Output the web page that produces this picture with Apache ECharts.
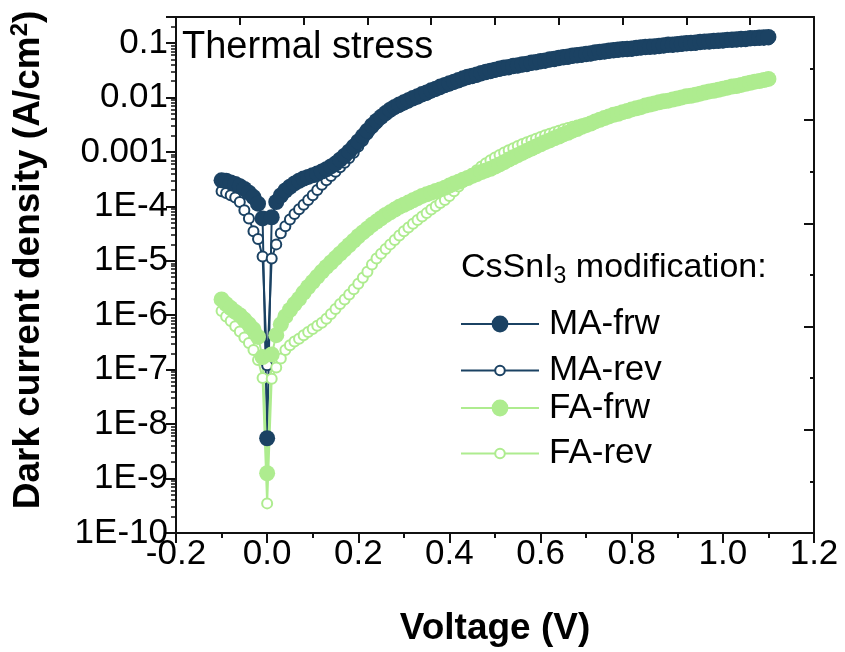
<!DOCTYPE html>
<html><head><meta charset="utf-8">
<script src="https://cdn.jsdelivr.net/npm/echarts@6/dist/echarts.min.js"></script>
<style>html,body{margin:0;padding:0;background:#fff}#c{width:845px;height:652px}</style>
</head><body><div id="c"></div>
<script>
const voltage = [
 -0.10,-0.09,-0.08,-0.07,-0.06,-0.05,-0.04,-0.03,-0.02,-0.01,
 0.00,
 0.01,0.02,0.03,0.04,0.05,0.06,0.07,0.08,0.09,0.10,
 0.11,0.12,0.13,0.14,0.15,0.16,0.17,0.18,0.19,0.20,
 0.21,0.22,0.23,0.24,0.25,0.26,0.27,0.28,0.29,0.30,
 0.31,0.32,0.33,0.34,0.35,0.36,0.37,0.38,0.39,0.40,
 0.41,0.42,0.43,0.44,0.45,0.46,0.47,0.48,0.49,0.50,
 0.51,0.52,0.53,0.54,0.55,0.56,0.57,0.58,0.59,0.60,
 0.61,0.62,0.63,0.64,0.65,0.66,0.67,0.68,0.69,0.70,
 0.71,0.72,0.73,0.74,0.75,0.76,0.77,0.78,0.79,0.80,
 0.81,0.82,0.83,0.84,0.85,0.86,0.87,0.88,0.89,0.90,
 0.91,0.92,0.93,0.94,0.95,0.96,0.97,0.98,0.99,1.00,
 1.01,1.02,1.03,1.04,1.05,1.06,1.07,1.08,1.09,1.10
];
const maFrw = [
 3.0e-4,2.95e-4,2.75e-4,2.57e-4,2.34e-4,2.09e-4,1.78e-4,1.48e-4,1.12e-4,6.0e-5,
 5.5e-9,
 6.3e-5,1.2e-4,1.58e-4,1.95e-4,2.29e-4,2.63e-4,2.95e-4,3.24e-4,3.47e-4,3.72e-4,
 4.0e-4,4.35e-4,4.8e-4,5.4e-4,6.1e-4,7.2e-4,8.5e-4,1.02e-3,1.25e-3,1.55e-3,
 1.95e-3,2.45e-3,3.05e-3,3.7e-3,4.4e-3,5.15e-3,5.95e-3,6.7e-3,7.41e-3,8.13e-3,
 8.91e-3,9.77e-3,0.0105,0.0115,0.0123,0.0135,0.0145,0.0158,0.0170,0.0182,
 0.0195,0.0209,0.0224,0.0240,0.0251,0.0263,0.0282,0.0295,0.0309,0.0324,
 0.0339,0.0355,0.0363,0.0380,0.0389,0.0407,0.0417,0.0437,0.0447,0.0468,
 0.0479,0.0501,0.0513,0.0537,0.0550,0.0562,0.0589,0.0603,0.0617,0.0631,
 0.0646,0.0676,0.0692,0.0708,0.0724,0.0741,0.0759,0.0776,0.0785,0.0794,
 0.0813,0.0832,0.0851,0.0860,0.0871,0.0891,0.0912,0.0933,0.0940,0.0955,
 0.0977,0.100,0.101,0.102,0.105,0.107,0.108,0.110,0.111,0.112,
 0.115,0.116,0.117,0.119,0.120,0.123,0.124,0.126,0.127,0.129
];
const maRev = [
 1.9e-4,1.75e-4,1.6e-4,1.45e-4,1.2e-4,8.5e-5,6.0e-5,3.5e-5,2.5e-5,1.2e-5,
 1.2e-7,
 1.1e-5,2.0e-5,3.2e-5,4.3e-5,5.7e-5,7.2e-5,8.8e-5,1.07e-4,1.3e-4,1.6e-4,
 2.0e-4,2.5e-4,3.0e-4,3.6e-4,4.3e-4,5.2e-4,6.3e-4,7.7e-4,9.6e-4,1.25e-3,
 1.6e-3,2.1e-3,2.7e-3,3.3e-3,4.0e-3,4.7e-3,5.4e-3,6.1e-3,6.7e-3,7.3e-3,
 8.0e-3,8.8e-3,9.5e-3,0.0104,0.0111,0.0122,0.0131,0.0142,0.0153,0.0164,
 0.0176,0.0188,0.0202,0.0216,0.0226,0.0237,0.0254,0.0266,0.0278,0.0292,
 0.0305,0.0320,0.0327,0.0342,0.0350,0.0366,0.0375,0.0393,0.0402,0.0421,
 0.0431,0.0451,0.0462,0.0483,0.0495,0.0506,0.0530,0.0543,0.0555,0.0568,
 0.0581,0.0608,0.0623,0.0637,0.0652,0.0667,0.0683,0.0698,0.0707,0.0715,
 0.0732,0.0749,0.0766,0.0774,0.0784,0.0802,0.0821,0.0840,0.0846,0.0860,
 0.0879,0.0900,0.0909,0.0918,0.0945,0.0963,0.0972,0.0990,0.0999,0.101,
 0.104,0.104,0.105,0.107,0.108,0.111,0.112,0.113,0.114,0.116
];
const faFrw = [
 1.95e-6,1.6e-6,1.35e-6,1.15e-6,1.0e-6,8.3e-7,6.8e-7,5.5e-7,4.0e-7,1.7e-7,
 1.25e-9,
 1.9e-7,4.3e-7,6.8e-7,9.5e-7,1.25e-6,1.6e-6,2.0e-6,2.6e-6,3.3e-6,4.1e-6,
 5.1e-6,6.3e-6,7.7e-6,9.3e-6,1.12e-5,1.35e-5,1.62e-5,1.95e-5,2.34e-5,2.82e-5,
 3.31e-5,3.89e-5,4.57e-5,5.25e-5,6.03e-5,6.92e-5,7.76e-5,8.71e-5,9.77e-5,1.07e-4,
 1.17e-4,1.29e-4,1.41e-4,1.55e-4,1.66e-4,1.78e-4,1.91e-4,2.04e-4,2.19e-4,2.40e-4,
 2.63e-4,2.82e-4,3.09e-4,3.31e-4,3.63e-4,3.89e-4,4.27e-4,4.57e-4,4.90e-4,5.37e-4,
 5.89e-4,6.46e-4,7.24e-4,7.94e-4,8.71e-4,9.55e-4,1.05e-3,1.15e-3,1.26e-3,1.38e-3,
 1.51e-3,1.62e-3,1.78e-3,1.91e-3,2.09e-3,2.24e-3,2.45e-3,2.63e-3,2.88e-3,3.09e-3,
 3.31e-3,3.63e-3,3.89e-3,4.17e-3,4.47e-3,4.79e-3,5.01e-3,5.37e-3,5.62e-3,6.03e-3,
 6.31e-3,6.61e-3,7.08e-3,7.41e-3,7.76e-3,8.13e-3,8.51e-3,8.71e-3,9.12e-3,9.55e-3,
 0.0100,0.0105,0.0107,0.0112,0.0117,0.0123,0.0129,0.0132,0.0138,0.0145,
 0.0151,0.0158,0.0162,0.0170,0.0178,0.0186,0.0195,0.0200,0.0209,0.0219
];
const faRev = [
 1.2e-6,9.5e-7,7.8e-7,6.3e-7,5.0e-7,3.9e-7,3.1e-7,2.3e-7,1.5e-7,7.0e-8,
 3.5e-10,
 6.8e-8,1.1e-7,1.6e-7,2.3e-7,2.8e-7,3.3e-7,3.7e-7,4.3e-7,4.9e-7,5.6e-7,
 6.4e-7,7.3e-7,8.6e-7,1.05e-6,1.3e-6,1.6e-6,1.95e-6,2.4e-6,3.0e-6,3.8e-6,
 4.9e-6,6.3e-6,8.5e-6,1.1e-5,1.35e-5,1.65e-5,2.0e-5,2.4e-5,2.9e-5,3.5e-5,
 4.1e-5,4.8e-5,5.6e-5,6.5e-5,7.5e-5,8.7e-5,1.0e-4,1.15e-4,1.3e-4,1.55e-4,
 1.9e-4,2.3e-4,2.8e-4,3.3e-4,3.9e-4,4.6e-4,5.4e-4,6.2e-4,7.0e-4,7.9e-4,
 8.8e-4,9.7e-4,1.07e-3,1.17e-3,1.28e-3,1.39e-3,1.5e-3,1.62e-3,1.75e-3,1.88e-3,
 2.02e-3,2.15e-3,2.3e-3,2.45e-3,2.6e-3,2.75e-3,2.9e-3,3.05e-3,3.2e-3,3.35e-3,
 3.45e-3,3.6e-3,3.7e-3,3.95e-3,4.25e-3,4.55e-3,4.75e-3,5.1e-3,5.35e-3,5.7e-3,
 6.0e-3,6.3e-3,6.7e-3,7.0e-3,7.4e-3,7.7e-3,8.1e-3,8.3e-3,8.7e-3,9.1e-3,
 9.5e-3,0.0100,0.0102,0.0107,0.0111,0.0117,0.0123,0.0126,0.0131,0.0138,
 0.0144,0.0150,0.0154,0.0162,0.0169,0.0177,0.0185,0.0190,0.0199,0.0208
];
const xTickValues = [-0.2,0.0,0.2,0.4,0.6,0.8,1.0,1.2];
const xTickLabels = ['-0.2','0.0','0.2','0.4','0.6','0.8','1.0','1.2'];
const yTickValues = [1e-10,1e-9,1e-8,1e-7,1e-6,1e-5,1e-4,1e-3,1e-2,1e-1];
const yTickLabels = ['1E-10','1E-9','1E-8','1E-7','1E-6','1E-5','1E-4','0.001','0.01','0.1'];
const seriesNames = ['MA-frw','MA-rev','FA-frw','FA-rev'];

const NAVY = '#1b4263', GREEN = '#aeec8f', AX = '#111';
const FONT = "'Liberation Sans', Arial, sans-serif";

function pairs(j){ return voltage.map((v,i)=>[v, j[i]]); }

const chart = echarts.init(document.getElementById('c'), null, {renderer:'canvas'});

function filled(name, vals, color){
  return {name, type:'line', data:pairs(vals), symbol:'circle', symbolSize:16, showAllSymbol:true,
    itemStyle:{color}, lineStyle:{color, width:2}, emphasis:{disabled:true}, silent:true, xAxisIndex:0, yAxisIndex:0};
}
function open(name, vals, color){
  return {name, type:'line', data:pairs(vals), symbol:'circle', symbolSize:10, showAllSymbol:true,
    itemStyle:{color:'#fff', borderColor:color, borderWidth:2}, lineStyle:{color, width:2}, emphasis:{disabled:true}, silent:true, xAxisIndex:0, yAxisIndex:0};
}
function legendRow(name, cy, h){
  return {data:[name], left:460, top:cy - h/2, padding:0, itemWidth:78, itemHeight:h, selectedMode:false,
    textStyle:{fontSize:35, fontFamily:FONT, color:'#000', padding:[0,0,0,5]}};
}

const option = {
  animation:false,
  backgroundColor:'#fff',
  grid:{left:174, right:31, top:17, bottom:118, containLabel:false},
  xAxis:[{
    type:'value', position:'bottom', min:-0.2, max:1.2, interval:0.2,
    axisLine:{show:true, onZero:false, lineStyle:{color:AX, width:2}},
    axisTick:{show:true, inside:false, length:10, lineStyle:{color:AX, width:2}},
    minorTick:{show:true, splitNumber:2, length:5, lineStyle:{color:AX, width:2}},
    splitLine:{show:false},
    axisLabel:{fontSize:35, fontFamily:FONT, color:'#000', margin:4,
      formatter:v=>{const i = xTickValues.findIndex(t=>Math.abs(t-v)<1e-6); return i<0?'':xTickLabels[i];}},
    name:'Voltage (V)', nameLocation:'middle', nameGap:77,
    nameTextStyle:{fontSize:37, fontWeight:'bold', fontFamily:FONT, color:'#000'}
  },{
    type:'value', position:'top', min:0, max:10, interval:1,
    axisLine:{show:true, onZero:false, lineStyle:{color:AX, width:2}},
    axisTick:{show:true, inside:true, length:8, lineStyle:{color:AX, width:2}},
    axisLabel:{show:false}, splitLine:{show:false}
  }],
  yAxis:[{
    type:'log', logBase:10, min:1e-10, max:0.3, splitNumber:10, position:'left',
    axisLine:{show:true, onZero:false, lineStyle:{color:AX, width:2}},
    axisTick:{show:true, inside:false, length:10, lineStyle:{color:AX, width:2}},
    minorTick:{show:true, splitNumber:9, length:5, lineStyle:{color:AX, width:1.5}},
    splitLine:{show:false},
    axisLabel:{fontSize:35, fontFamily:FONT, color:'#000', margin:8, showMaxLabel:false,
      formatter:v=>{const i = yTickValues.findIndex(t=>Math.abs(Math.log10(t)-Math.log10(v))<1e-6); return i<0?'':yTickLabels[i];}},
    name:'{t|Dark current density (A/cm}{s|2}{t|)}', nameLocation:'middle', nameGap:126,
    nameTextStyle:{padding:[0,0,0,30], rich:{
      t:{fontSize:37, fontWeight:'bold', fontFamily:FONT, color:'#000', lineHeight:42},
      s:{fontSize:24, fontWeight:'bold', fontFamily:FONT, color:'#000', lineHeight:24, verticalAlign:'top'}
    }}
  },{
    type:'value', position:'right', min:0, max:5, interval:1,
    axisLine:{show:true, onZero:false, lineStyle:{color:AX, width:2}},
    axisTick:{show:true, inside:true, length:10, lineStyle:{color:AX, width:2}},
    minorTick:{show:true, splitNumber:2, length:4, lineStyle:{color:AX, width:2}},
    axisLabel:{show:false}, splitLine:{show:false}
  }],
  legend:[
    legendRow('MA-frw', 317, 21),
    legendRow('MA-rev', 359, 12),
    legendRow('FA-frw', 401, 21),
    legendRow('FA-rev', 442, 12)
  ],
  series:[
    open('MA-rev', maRev, NAVY),
    filled('MA-frw', maFrw, NAVY),
    open('FA-rev', faRev, GREEN),
    filled('FA-frw', faFrw, GREEN)
  ],
  graphic:[
    {type:'text', x:182, y:48, silent:true, style:{text:'Thermal stress', fontSize:38, fontFamily:FONT, fill:'#000', verticalAlign:'middle'}},
    {type:'text', x:461, y:268, silent:true, style:{text:'{a|CsSnI}{b|3}{a| modification:}', verticalAlign:'middle',
      rich:{a:{fontSize:34, fontFamily:FONT, fill:'#000', lineHeight:40},
            b:{fontSize:23, fontFamily:FONT, fill:'#000', lineHeight:23, verticalAlign:'bottom'}}}}
  ]
};
chart.setOption(option);
</script>
</body></html>
